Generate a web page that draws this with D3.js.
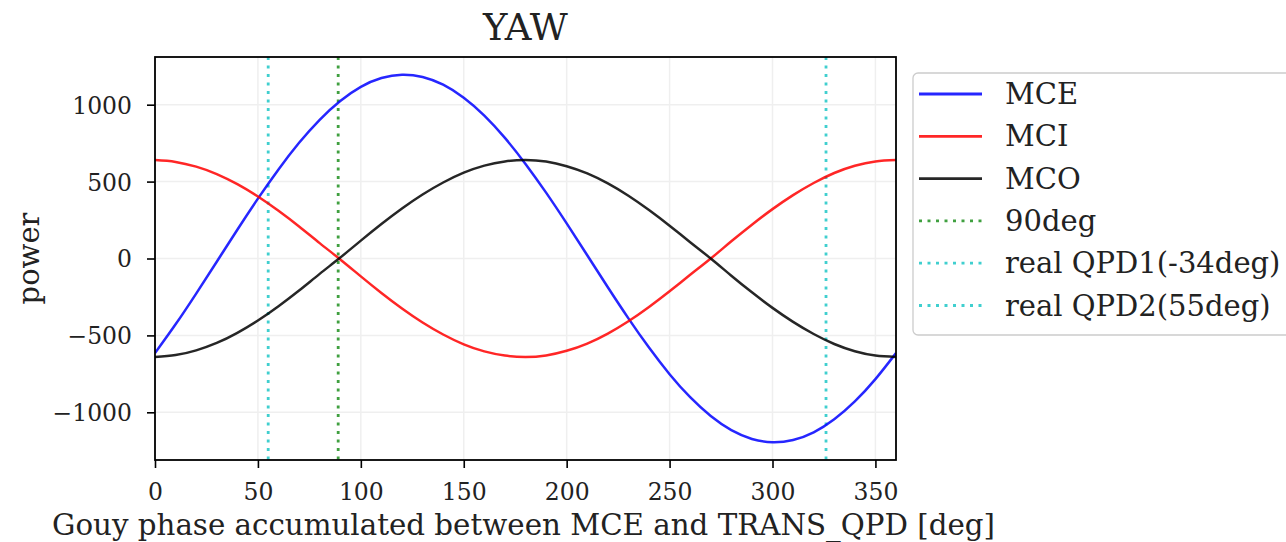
<!DOCTYPE html>
<html><head><meta charset="utf-8">
<script src="https://cdn.jsdelivr.net/npm/d3@7"></script>
<style>
html,body{margin:0;padding:0;background:#fff;}
svg{display:block;font-family:"DejaVu Serif",serif;}
</style></head>
<body>
<svg id="chart" width="1286" height="542"></svg>
<script>
const phase = [0,10,20,30,40,50,60,70,80,90,100,110,120,130,140,150,160,170,180,190,200,210,220,230,240,250,260,270,280,290,300,310,320,330,340,350,360];
const mce = [-615,-428,-228,-21,187,389,579,752,902,1024,1116,1173,1195,1180,1130,1045,929,784,615,428,228,21,-187,-389,-579,-752,-902,-1024,-1116,-1173,-1195,-1180,-1130,-1045,-929,-784,-615];
const mci = [640,628,597,549,483,403,310,208,100,-6,-116,-224,-325,-416,-494,-558,-604,-631,-640,-630,-600,-553,-488,-408,-315,-213,-106,0,112,220,321,412,491,556,603,631,640];
const mco = [-640,-628,-597,-549,-483,-403,-310,-208,-100,6,116,224,325,416,494,558,604,631,640,630,600,553,488,408,315,213,106,0,-112,-220,-321,-412,-491,-556,-603,-631,-640];
const seriesNames = ["MCE","MCI","MCO"];
const seriesColors = ["#0000ff","#ff0000","#000000"];
const vlineNames = ["90deg","real QPD1(-34deg)","real QPD2(55deg)"];
const vlinePos = [89, 326, 55];
const vlineColors = ["#008000","#00bfbf","#00bfbf"];
const xTicks = [0,50,100,150,200,250,300,350];
const yTicks = [-1000,-500,0,500,1000];
const titleText = "YAW";
const xLabel = "Gouy phase accumulated between MCE and TRANS_QPD [deg]";
const yLabel = "power";

const svg = d3.select("#chart");
const L = 155, R = 896, T = 57, B = 460;
const x = d3.scaleLinear().domain([0,360]).range([L,R]);
const y = d3.scaleLinear().domain([-1310,1310]).range([B,T]);

// grid
const g = svg.append("g");
g.selectAll(".gx").data(xTicks).join("line")
  .attr("x1",d=>x(d)).attr("x2",d=>x(d)).attr("y1",T).attr("y2",B)
  .attr("stroke","#efefef").attr("stroke-width",1.5);
g.selectAll(".gy").data(yTicks).join("line")
  .attr("y1",d=>y(d)).attr("y2",d=>y(d)).attr("x1",L).attr("x2",R)
  .attr("stroke","#efefef").attr("stroke-width",1.5);

const seriesData = [mce, mci, mco];
const line = d3.line().x((d,i)=>x(phase[i])).y(d=>y(d)).curve(d3.curveNatural);

svg.append("clipPath").attr("id","clip").append("rect")
  .attr("x",L).attr("y",T).attr("width",R-L).attr("height",B-T);
const plot = svg.append("g").attr("clip-path","url(#clip)");

const dotDash = "3,5.5";
// vertical lines
vlinePos.forEach((v,i)=>{
  plot.append("line").attr("x1",x(v)).attr("x2",x(v)).attr("y1",T).attr("y2",B)
    .attr("stroke",vlineColors[i]).attr("stroke-opacity",0.75).attr("stroke-width",2.8)
    .attr("stroke-dasharray",dotDash);
});

seriesData.forEach((s,i)=>{
  plot.append("path").datum(s).attr("d",line).attr("fill","none")
    .attr("stroke",seriesColors[i]).attr("stroke-opacity",0.85).attr("stroke-width",2.5);
});

// axes
const xAxis = d3.axisBottom(x).tickValues(xTicks).tickSize(8).tickFormat(d3.format("d"));
const yAxis = d3.axisLeft(y).tickValues(yTicks).tickSize(8).tickPadding(15).tickFormat(d=>d<0?"\u2212"+Math.abs(d):d);
const gx = svg.append("g").attr("transform",`translate(0,${B})`).call(xAxis);
const gy = svg.append("g").attr("transform",`translate(${L},0)`).call(yAxis);
[gx,gy].forEach(a=>{
  a.select(".domain").remove();
  a.selectAll("line").attr("stroke","#000").attr("stroke-width",1.6);
  a.selectAll("text").attr("fill","#222").style("font-family","DejaVu Serif").style("font-size","23.5px");
});
gx.selectAll("text").attr("y",40).attr("dy",0);
gy.selectAll("text").attr("dy","0.36em");
svg.append("rect").attr("x",L).attr("y",T).attr("width",R-L).attr("height",B-T)
  .attr("fill","none").attr("stroke","#000").attr("stroke-width",1.8);

// title and labels
svg.append("text").attr("x",(L+R)/2).attr("y",40).attr("text-anchor","middle")
  .style("font-size","37px").attr("fill","#222").text(titleText);
svg.append("text").attr("x",(L+R)/2 - 2).attr("y",535).attr("text-anchor","middle")
  .style("font-size","29.3px").attr("fill","#222").text(xLabel);
svg.append("text").attr("transform",`translate(39,${(T+B)/2}) rotate(-90)`).attr("text-anchor","middle")
  .style("font-size","29px").attr("fill","#222").text(yLabel);

// legend
const lg = svg.append("g");
lg.append("rect").attr("x",913).attr("y",73).attr("width",400).attr("height",262).attr("rx",5)
  .attr("fill","#fff").attr("fill-opacity",0.8).attr("stroke","#cccccc").attr("stroke-width",1.3);
const items = seriesNames.map((n,i)=>({name:n,color:seriesColors[i],dash:null,op:0.85}))
  .concat(vlineNames.map((n,i)=>({name:n,color:vlineColors[i],dash:dotDash,op:0.75})));
items.forEach((it,i)=>{
  const cy = 94 + i*42.3;
  lg.append("line").attr("x1",919).attr("x2",982).attr("y1",cy).attr("y2",cy)
    .attr("stroke",it.color).attr("stroke-opacity",it.op).attr("stroke-width",2.8)
    .attr("stroke-dasharray",it.dash);
  lg.append("text").attr("x",1005).attr("y",cy+10).style("font-size","29px").attr("fill","#222").text(it.name);
});
</script>
</body></html>
